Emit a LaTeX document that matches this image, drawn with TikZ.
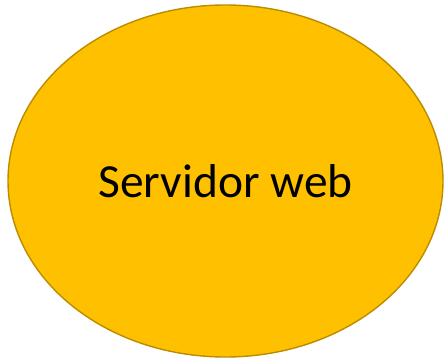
\documentclass[tikz,border=0pt]{standalone}
\usepackage{fontspec}
\setmainfont{Carlito}
\usepackage{tikz}
\usetikzlibrary{shapes}
\definecolor{srvfill}{HTML}{FFC000}
\definecolor{srvedge}{HTML}{BC8C00}
\tikzstyle{server} = [ellipse, draw=srvedge, fill=srvfill, line width=1.4pt, inner sep=0pt, font=\fontsize{47.5}{57}\selectfont]

\begin{document}
\begin{tikzpicture}[x=1pt,y=1pt]
	\useasboundingbox (0,0) rectangle (444,359);
	\node[server,minimum width=435pt,minimum height=352pt] (webServer) at (225.5,178) {Servidor web\hspace{6pt}};
\end{tikzpicture}
\end{document}
